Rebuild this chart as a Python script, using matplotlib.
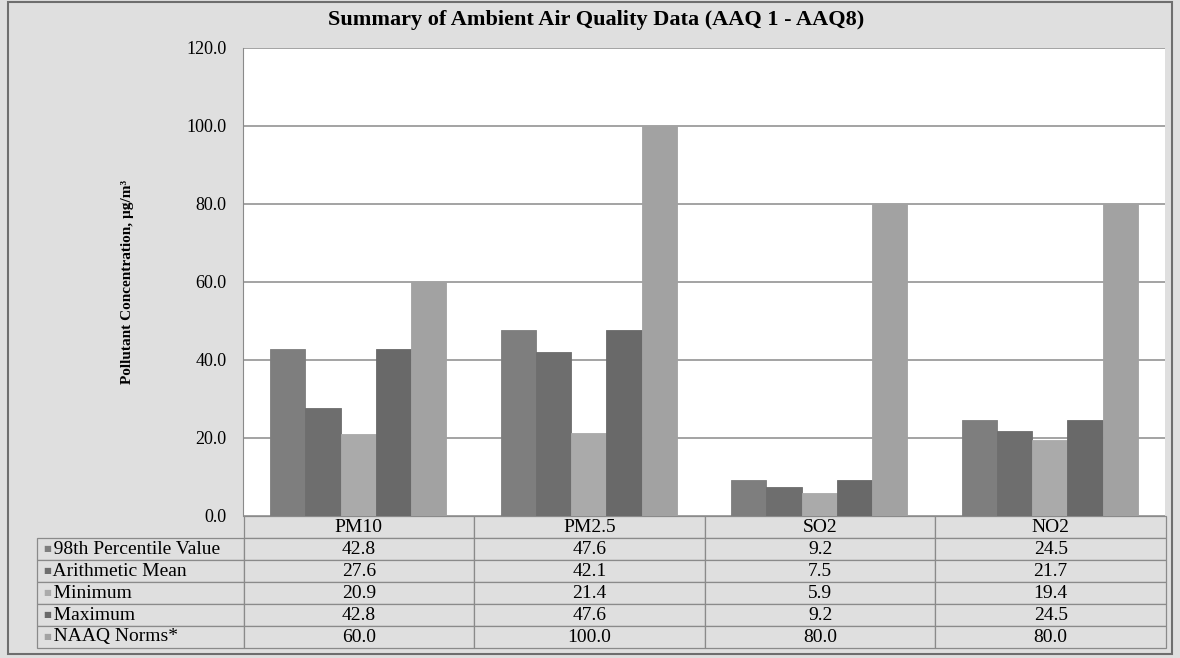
import numpy as np
import matplotlib.pyplot as plt
from matplotlib.patches import Rectangle

plt.rcParams['font.family'] = ['Liberation Serif', 'DejaVu Serif']

pollutants = ['PM10', 'PM2.5', 'SO2', 'NO2']
series = ['98th Percentile Value', 'Arithmetic Mean', 'Minimum', 'Maximum', 'NAAQ Norms*']
p98 = [42.8, 47.6, 9.2, 24.5]
mean = [27.6, 42.1, 7.5, 21.7]
minimum = [20.9, 21.4, 5.9, 19.4]
maximum = [42.8, 47.6, 9.2, 24.5]
naaq = [60.0, 100.0, 80.0, 80.0]
values = [p98, mean, minimum, maximum, naaq]
colors = ['#7e7e7e', '#6e6e6e', '#aaaaaa', '#696969', '#a2a2a2']

bg = '#dfdfdf'
fig = plt.figure(figsize=(11.8, 6.58), dpi=100, facecolor=bg)
W, H = 1180, 658
ax = fig.add_axes([243 / W, (H - 516) / H, 922 / W, 468 / H])
ax.set_facecolor('white')

x = np.arange(len(pollutants))
bw = 0.153
for i, (vals, c) in enumerate(zip(values, colors)):
    ax.bar(x + (i - 2) * bw, vals, bw, color=c, edgecolor=c, linewidth=0.6, zorder=3)

ax.set_xlim(-0.5, 3.5)
ax.set_ylim(0, 120)
ax.set_yticks(np.arange(0, 121, 20))
ax.set_yticklabels(['%.1f' % v for v in np.arange(0, 121, 20)], fontsize=13)
ax.set_xticks([])
ax.grid(axis='y', color='#8a8a8a', linewidth=1.1, zorder=0)
ax.tick_params(axis='y', length=0, pad=12)
for s in ['top', 'right', 'bottom']:
    ax.spines[s].set_visible(False)
ax.spines['left'].set_color('#8a8a8a')

ax.set_ylabel('Pollutant Concentration, µg/m³', fontsize=11, fontweight='bold')
ax.yaxis.set_label_coords(-0.118, 0.5)

fig.suptitle('Summary of Ambient Air Quality Data (AAQ 1 - AAQ8)', fontsize=16,
             fontweight='bold', y=0.985, x=0.505)

# data table under the plot
cell_text = []
for name, vals in zip(series, values):
    cell_text.append(['   ' + name] + ['%.1f' % v for v in vals])
col_labels = [''] + pollutants
left = (37 - 243) / 922
tab_h = (648 - 516) / 468
tbl = ax.table(cellText=cell_text, colLabels=col_labels,
               colWidths=[206, 230, 230, 230, 230], cellLoc='center',
               bbox=[left, -tab_h, (1166 - 37) / 922, tab_h])
tbl.auto_set_font_size(False)
tbl.set_fontsize(14)
for (r, c), cell in tbl.get_celld().items():
    cell.set_facecolor(bg)
    cell.set_edgecolor('#8a8a8a')
    cell.set_linewidth(0.9)
    if c == 0:
        cell.get_text().set_ha('left')
        cell._loc = 'left'
        cell.PAD = 0.01
    if r == 0 and c == 0:
        cell.visible_edges = ''
rh = tab_h / 6
for i, c in enumerate(colors):
    ax.text(left + 0.007, -(i + 1.5) * rh, '■', color=c, fontsize=6,
            va='center', ha='left', transform=ax.transAxes, family='DejaVu Sans')

fig.patches.append(Rectangle((8 / W, 4 / H), 1164 / W, 652 / H, transform=fig.transFigure,
                             fill=False, edgecolor='#6e6e6e', linewidth=1.5))

fig.savefig('out.png', dpi=100, facecolor=bg)
